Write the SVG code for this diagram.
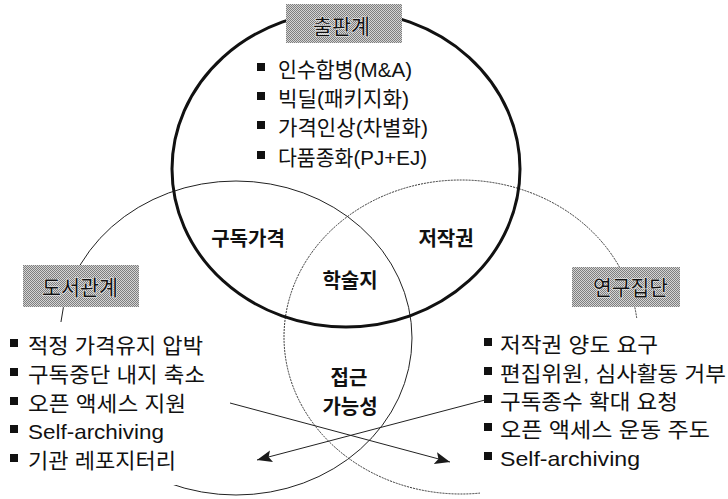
<svg xmlns="http://www.w3.org/2000/svg" width="728" height="499" viewBox="0 0 728 499">
<defs>
<pattern id="stip" width="2" height="2" patternUnits="userSpaceOnUse">
<rect width="2" height="2" fill="#d4d4d4"/>
<rect x="0" y="0" width="1" height="1" fill="#7e7e7e"/>
<rect x="1" y="1" width="1" height="1" fill="#7e7e7e"/>
</pattern>
<marker id="ah" viewBox="0 0 15 12" refX="15" refY="6" markerWidth="15" markerHeight="12" markerUnits="userSpaceOnUse" orient="auto">
<path d="M0,0 L15,6 L0,12 L3,6 z" fill="#1a1a1a"/>
</marker>
</defs>
<style>
.thick{fill:none;stroke:#111;stroke-width:3}
.thin{fill:none;stroke:#222;stroke-width:1}
.dot{fill:none;stroke:#333;stroke-width:1;stroke-dasharray:2 1}
.lst{font-family:"Liberation Sans","Noto Sans CJK KR",sans-serif;font-size:21px;fill:#111}
.ctr{font-family:"Noto Sans CJK KR","Noto Sans CJK SC",sans-serif;font-size:20px;font-weight:bold;fill:#111;text-anchor:middle}
.box{fill:url(#stip)}
.bt{font-family:"Noto Sans CJK KR",sans-serif;font-size:21px;fill:#111;stroke:#eeeeee;stroke-width:1.2;paint-order:stroke}
.bul{fill:#111}
.arr{fill:none;stroke:#222;stroke-width:1;marker-end:url(#ah)}
</style>
<rect width="728" height="499" fill="#fff"/>
<g id="circles">
<ellipse id="left-circle" class="thin" cx="236" cy="338" rx="176" ry="157"/>
<ellipse id="right-circle" class="dot" cx="461" cy="337" rx="177" ry="157"/>
<ellipse id="top-circle" class="thick" cx="346" cy="169" rx="174" ry="158"/>
</g>
<rect x="0" y="322" width="206" height="163" fill="#fff"/>
<rect x="480" y="318" width="248" height="181" fill="#fff"/>
<g id="node-publisher">
<rect class="box" x="286" y="4" width="116" height="39"/>
<text class="bt" x="313" y="34" textLength="57" lengthAdjust="spacingAndGlyphs">출판계</text>
<rect class="bul" x="257" y="63" width="8" height="8"/>
<text class="lst" x="278" y="77" textLength="134" lengthAdjust="spacingAndGlyphs">인수합병(M&amp;A)</text>
<rect class="bul" x="257" y="92" width="8" height="8"/>
<text class="lst" x="278" y="106" textLength="131" lengthAdjust="spacingAndGlyphs">빅딜(패키지화)</text>
<rect class="bul" x="257" y="121" width="8" height="8"/>
<text class="lst" x="278" y="135" textLength="150" lengthAdjust="spacingAndGlyphs">가격인상(차별화)</text>
<rect class="bul" x="257" y="151" width="8" height="8"/>
<text class="lst" x="278" y="165" textLength="149" lengthAdjust="spacingAndGlyphs">다품종화(PJ+EJ)</text>
</g>
<g id="node-library">
<rect class="box" x="23" y="265" width="116" height="42"/>
<text class="bt" x="42" y="295" textLength="76" lengthAdjust="spacingAndGlyphs">도서관계</text>
<rect class="bul" x="10" y="339" width="8" height="8"/>
<text class="lst" x="28" y="353" textLength="175" lengthAdjust="spacingAndGlyphs">적정 가격유지 압박</text>
<rect class="bul" x="10" y="368" width="8" height="8"/>
<text class="lst" x="28" y="382" textLength="177" lengthAdjust="spacingAndGlyphs">구독중단 내지 축소</text>
<rect class="bul" x="10" y="397" width="8" height="8"/>
<text class="lst" x="28" y="411" textLength="158" lengthAdjust="spacingAndGlyphs">오픈 액세스 지원</text>
<rect class="bul" x="10" y="425" width="8" height="8"/>
<text class="lst" x="28" y="439" textLength="136" lengthAdjust="spacingAndGlyphs">Self-archiving</text>
<rect class="bul" x="10" y="454" width="8" height="8"/>
<text class="lst" x="28" y="468" textLength="148" lengthAdjust="spacingAndGlyphs">기관 레포지터리</text>
</g>
<g id="node-research">
<rect class="box" x="572" y="267" width="108" height="40"/>
<text class="bt" x="593" y="295" textLength="75" lengthAdjust="spacingAndGlyphs">연구집단</text>
<rect class="bul" x="484" y="338" width="8" height="8"/>
<text class="lst" x="500" y="352" textLength="158" lengthAdjust="spacingAndGlyphs">저작권 양도 요구</text>
<rect class="bul" x="484" y="367" width="8" height="8"/>
<text class="lst" x="500" y="381" textLength="226" lengthAdjust="spacingAndGlyphs">편집위원, 심사활동 거부</text>
<rect class="bul" x="484" y="395" width="8" height="8"/>
<text class="lst" x="500" y="409" textLength="178" lengthAdjust="spacingAndGlyphs">구독종수 확대 요청</text>
<rect class="bul" x="484" y="423" width="8" height="8"/>
<text class="lst" x="500" y="437" textLength="210" lengthAdjust="spacingAndGlyphs">오픈 액세스 운동 주도</text>
<rect class="bul" x="484" y="452" width="8" height="8"/>
<text class="lst" x="500" y="466" textLength="140" lengthAdjust="spacingAndGlyphs">Self-archiving</text>
</g>
<g id="node-price"><text class="ctr" x="248" y="246">구독가격</text></g>
<g id="node-copyright"><text class="ctr" x="446" y="246">저작권</text></g>
<g id="node-journal"><text class="ctr" x="350" y="288">학술지</text></g>
<g id="node-access"><text class="ctr" x="349" y="385">접근</text><text class="ctr" x="350" y="414">가능성</text></g>
<g id="connectors">
<line class="arr" x1="230" y1="403" x2="450" y2="462"/>
<line class="arr" x1="485" y1="400" x2="257" y2="460"/>
</g>
</svg>
